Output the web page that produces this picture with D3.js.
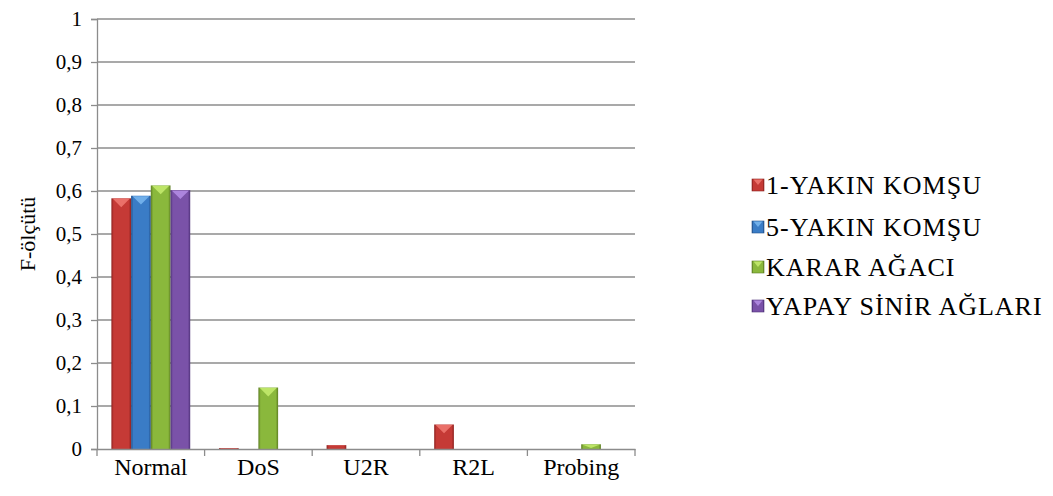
<!DOCTYPE html>
<html>
<head>
<meta charset="utf-8">
<script src="https://cdn.jsdelivr.net/npm/d3@7"></script>
<style>
  html, body { margin: 0; padding: 0; background: #fff; }
  svg { display: block; }
</style>
</head>
<body>
<svg id="chart" width="1053" height="496"></svg>
<script>
// Attack categories on the x axis
const categories = ["Normal", "DoS", "U2R", "R2L", "Probing"];
// Classifier names (legend order)
const seriesNames = ["1-YAKIN KOMŞU", "5-YAKIN KOMŞU", "KARAR AĞACI", "YAPAY SİNİR AĞLARI"];
// F-measure per classifier, one value per category
const knn1 = [0.583, 0.002, 0.009, 0.057, 0];
const knn5 = [0.589, 0, 0, 0, 0];
const tree = [0.613, 0.143, 0, 0, 0.011];
const ann  = [0.602, 0, 0, 0, 0];
const yTicks = [0, 0.1, 0.2, 0.3, 0.4, 0.5, 0.6, 0.7, 0.8, 0.9, 1];
const yTitle = "F-ölçütü";

const FONT = "'Liberation Serif', 'Times New Roman', serif";
const seriesValues = [knn1, knn5, tree, ann];
const colors = [
  { base: "#c53a36", dark: "#8e2220", light: "#f07a72" },
  { base: "#3a7cc6", dark: "#22508a", light: "#7ab8f0" },
  { base: "#8ab83c", dark: "#5d7e22", light: "#c6ec6e" },
  { base: "#7a52a8", dark: "#50327a", light: "#b58ee6" }
];

const svg = d3.select("#chart");
const plot = { left: 97, right: 635, top: 19, bottom: 449 };

const x = d3.scaleBand().domain(categories).range([plot.left, plot.right]);
const xInner = d3.scaleBand().domain(d3.range(seriesNames.length))
  .range([0, x.bandwidth()]).paddingInner(0).paddingOuter(0.73);
const y = d3.scaleLinear().domain([0, 1]).range([plot.bottom, plot.top]);

// Gradients giving the bars a bevelled look
const defs = svg.append("defs");
colors.forEach((c, i) => {
  const g = defs.append("linearGradient").attr("id", "bar" + i)
    .attr("x1", "0").attr("x2", "1").attr("y1", "0").attr("y2", "0");
  g.append("stop").attr("offset", "0").attr("stop-color", c.dark);
  g.append("stop").attr("offset", "0.12").attr("stop-color", c.base);
  g.append("stop").attr("offset", "0.88").attr("stop-color", c.base);
  g.append("stop").attr("offset", "1").attr("stop-color", c.dark);
});

// Horizontal gridlines
svg.append("g")
  .selectAll("line")
  .data(yTicks.filter(d => d > 0))
  .join("line")
  .attr("x1", plot.left).attr("x2", plot.right)
  .attr("y1", d => y(d)).attr("y2", d => y(d))
  .attr("stroke", "#8c8c8c").attr("stroke-width", 1.3);

// Y axis
const yAxis = svg.append("g")
  .attr("transform", `translate(${plot.left},0)`)
  .call(d3.axisLeft(y).tickValues(yTicks).tickSize(6).tickPadding(9)
    .tickFormat(d => d === 0 ? "0" : d === 1 ? "1" : d3.format(".1f")(d).replace(".", ",")));
yAxis.attr("font-family", FONT).attr("font-size", 21);
yAxis.select(".domain").attr("stroke", "#8c8c8c").attr("stroke-width", 1.3);
yAxis.selectAll(".tick line").attr("stroke", "#8c8c8c").attr("stroke-width", 1.3);
yAxis.selectAll(".tick text").attr("fill", "#000");

// Bars
svg.append("g")
  .selectAll("g")
  .data(seriesValues)
  .join("g")
  .each(function (vals, si) {
    const g = d3.select(this);
    const c = colors[si];
    const data = vals.map((v, ci) => ({ v, cat: categories[ci] })).filter(d => d.v > 0);
    const bx = d => x(d.cat) + xInner(si);
    const w = xInner.bandwidth();
    g.selectAll("rect")
      .data(data)
      .join("rect")
      .attr("x", bx)
      .attr("y", d => y(d.v))
      .attr("width", w)
      .attr("height", d => y(0) - y(d.v))
      .attr("fill", `url(#bar${si})`);
    // Light triangular bevel on top of each bar
    g.selectAll("path.cap")
      .data(data.filter(d => y(0) - y(d.v) > 4))
      .join("path")
      .attr("class", "cap")
      .attr("d", d => {
        const x0 = bx(d), y0 = y(d.v);
        const h = Math.min(w * 0.45, (y(0) - y0) * 0.8);
        return `M${x0 + 1.5},${y0 + 0.5} L${x0 + w - 1.5},${y0 + 0.5} L${x0 + w / 2},${y0 + h} Z`;
      })
      .attr("fill", c.light)
      .attr("opacity", 0.85);
  });

// X axis
const xAxis = svg.append("g")
  .attr("transform", `translate(0,${plot.bottom})`)
  .call(d3.axisBottom(x).tickSize(0).tickPadding(9));
xAxis.attr("font-family", FONT).attr("font-size", 24);
xAxis.select(".domain").attr("stroke", "#8c8c8c").attr("stroke-width", 1.3);
xAxis.selectAll(".tick text").attr("fill", "#000");
svg.append("g")
  .selectAll("line")
  .data(categories.map(c => x(c)).concat([plot.right]))
  .join("line")
  .attr("x1", d => d).attr("x2", d => d)
  .attr("y1", plot.bottom).attr("y2", plot.bottom + 7)
  .attr("stroke", "#8c8c8c").attr("stroke-width", 1.3);

// Y axis title
svg.append("text")
  .attr("transform", `translate(35,${(plot.top + plot.bottom) / 2}) rotate(-90)`)
  .attr("text-anchor", "middle")
  .attr("font-family", FONT)
  .attr("font-size", 22)
  .text(yTitle);

// Legend
const legend = svg.append("g").attr("transform", "translate(752,0)");
const legendY = [185, 227, 267, 306];
seriesNames.forEach((name, i) => {
  const c = colors[i];
  const row = legend.append("g").attr("transform", `translate(0,${legendY[i]})`);
  row.append("rect").attr("x", 0).attr("y", -6).attr("width", 12).attr("height", 12)
    .attr("fill", `url(#bar${i})`).attr("stroke", c.dark).attr("stroke-width", 0.6);
  row.append("path").attr("d", "M1.5,-5.5 L10.5,-5.5 L6,0 Z").attr("fill", c.light).attr("opacity", 0.85);
  row.append("text").attr("x", 14).attr("y", 8.5)
    .attr("font-family", FONT).attr("font-size", 26).attr("letter-spacing", 1).text(name);
});
</script>
</body>
</html>
